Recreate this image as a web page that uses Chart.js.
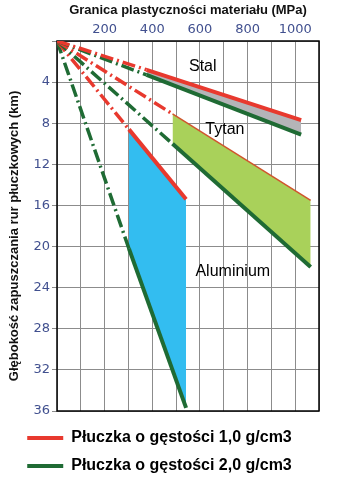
<!DOCTYPE html>
<html>
<head>
<meta charset="utf-8">
<script src="https://cdn.jsdelivr.net/npm/chart.js@4.4.1/dist/chart.umd.min.js"></script>
<style>
  html, body { margin: 0; padding: 0; background: #ffffff; }
  #wrap { width: 346px; height: 501px; }
</style>
</head>
<body>
<div id="wrap"><canvas id="c" width="346" height="501"></canvas></div>
<script>
// ---- data (MPa on x, depth km on y) ----
const xTitle = 'Granica plastyczności materiału (MPa)';
const yTitle = 'Głębokość zapuszczania rur płuczkowych (km)';
const legendLabels = ['Płuczka o gęstości 1,0 g/cm3', 'Płuczka o gęstości 2,0 g/cm3'];
const materials = ['Stal', 'Tytan', 'Aluminium'];
const xTickLabels = [200, 400, 600, 800, 1000];
const yTickLabels = [4, 8, 12, 16, 20, 24, 28, 32, 36];

const origin = [0, 0];
const steelX = [376, 1025];
const steelRed = [2.8, 7.7];
const steelGreen = [3.3, 9.1];
const titanX = [485, 1065];
const titanRed = [7.1, 15.5];
const titanGreen = [10.0, 22.0];
const aluX = [302, 542];
const aluRed = [8.6, 15.4];
const aluGreen = [20.2, 35.7];

// label anchors in data space (MPa, km)
const materialLabelX = [612, 705, 738];
const materialLabelY = [2.5, 8.65, 22.4];

// ---- styles ----
const RED = '#e8392e';
const GREEN = '#1f6b34';
const TICK = '#41508f';
const DASH = [13, 4, 2, 4];

function pts(xs, ys) { return xs.map((x, i) => ({ x: x, y: ys[i] })); }
function fromOrigin(x, y) { return [{ x: origin[0], y: origin[1] }, { x: x, y: y }]; }

const datasets = [
  { label: legendLabels[0], showInLegend: true, data: pts(steelX, steelRed), borderColor: RED, borderWidth: 4, fill: '+1', backgroundColor: '#b4b4b8' },
  { label: legendLabels[1], showInLegend: true, data: pts(steelX, steelGreen), borderColor: GREEN, borderWidth: 4, fill: false },
  { label: 'Tytan 1,0', data: pts(titanX, titanRed), borderColor: '#d0552d', borderWidth: 1.5, fill: '+1', backgroundColor: '#a9d15a' },
  { label: 'Tytan 2,0', data: pts(titanX, titanGreen), borderColor: GREEN, borderWidth: 4, fill: false },
  { label: 'Aluminium 1,0', data: pts(aluX, aluRed), borderColor: RED, borderWidth: 4, fill: '+1', backgroundColor: '#33bdf0' },
  { label: 'Aluminium 2,0', data: pts(aluX, aluGreen), borderColor: GREEN, borderWidth: 4, fill: false },
  { label: 'd1', data: fromOrigin(steelX[0], steelRed[0]), borderColor: RED, borderWidth: 3.5, borderDash: DASH, fill: false },
  { label: 'd2', data: fromOrigin(steelX[0], steelGreen[0]), borderColor: GREEN, borderWidth: 3.5, borderDash: DASH, fill: false },
  { label: 'd3', data: fromOrigin(titanX[0], titanRed[0]), borderColor: RED, borderWidth: 3.5, borderDash: DASH, fill: false },
  { label: 'd4', data: fromOrigin(titanX[0], titanGreen[0]), borderColor: GREEN, borderWidth: 3.5, borderDash: DASH, fill: false },
  { label: 'd5', data: fromOrigin(aluX[0], aluRed[0]), borderColor: RED, borderWidth: 3.5, borderDash: DASH, fill: false },
  { label: 'd6', data: fromOrigin(aluX[0], aluGreen[0]), borderColor: GREEN, borderWidth: 3.5, borderDash: DASH, fill: false }
];

const frame = {
  id: 'frame',
  beforeDatasetsDraw(chart) {
    const a = chart.chartArea, ctx = chart.ctx;
    ctx.save();
    ctx.strokeStyle = '#000';
    ctx.lineWidth = 1.5;
    ctx.strokeRect(a.left, a.top, a.right - a.left, a.bottom - a.top);
    ctx.restore();
  }
};

// vertical axis title, drawn slightly below the plot centre as in the original
const yAxisTitle = {
  id: 'yAxisTitle',
  afterDraw(chart) {
    const a = chart.chartArea, ctx = chart.ctx;
    ctx.save();
    ctx.translate(14, (a.top + a.bottom) / 2 + 10);
    ctx.rotate(-Math.PI / 2);
    ctx.font = 'bold 13px "Liberation Sans", Arial, sans-serif';
    ctx.fillStyle = '#111';
    ctx.textAlign = 'center';
    ctx.textBaseline = 'middle';
    ctx.fillText(yTitle, 0, 0);
    ctx.restore();
  }
};

const materialText = {
  id: 'materialText',
  afterDatasetsDraw(chart) {
    const ctx = chart.ctx, xs = chart.scales.x, ys = chart.scales.y;
    ctx.save();
    ctx.font = '16px "Liberation Sans", Arial, sans-serif';
    ctx.fillStyle = '#000';
    ctx.textAlign = 'center';
    ctx.textBaseline = 'middle';
    materials.forEach((m, i) => {
      ctx.fillText(m, xs.getPixelForValue(materialLabelX[i]), ys.getPixelForValue(materialLabelY[i]));
    });
    ctx.restore();
  }
};

new Chart(document.getElementById('c'), {
  type: 'line',
  data: { datasets: datasets },
  options: {
    responsive: false,
    animation: false,
    layout: { padding: { left: 0, right: 27, top: 0, bottom: 17 } },
    elements: { point: { radius: 0 }, line: { tension: 0, borderCapStyle: 'butt' } },
    plugins: {
      filler: { drawTime: 'beforeDatasetsDraw' },
      tooltip: { enabled: false },
      legend: {
        display: true,
        position: 'bottom',
        labels: {
          usePointStyle: true,
          pointStyle: 'line',
          pointStyleWidth: 36,
          padding: 12,
          color: '#000',
          font: { family: '"Liberation Sans", Arial, sans-serif', size: 16, weight: 'bold' },
          filter: (item, data) => !!data.datasets[item.datasetIndex].showInLegend
        }
      }
    },
    scales: {
      x: {
        type: 'linear',
        position: 'top',
        min: 0,
        max: 1100,
        afterFit: (s) => { s.height = 41; },
        border: { display: false },
        grid: { color: '#8c8c8c', lineWidth: 1, drawTicks: false },
        ticks: {
          stepSize: 100,
          padding: 4,
          color: TICK,
          font: { family: '"DejaVu Sans", Verdana, sans-serif', size: 13 },
          maxRotation: 0,
          autoSkip: false,
          callback: (v) => xTickLabels.includes(v) ? String(v) : ''
        },
        title: {
          display: true,
          text: xTitle,
          color: '#111',
          padding: { top: 3, bottom: 0 },
          font: { family: '"Liberation Sans", Arial, sans-serif', size: 13, weight: 'bold' }
        }
      },
      xb: {
        type: 'linear',
        position: 'bottom',
        min: 0,
        max: 1100,
        afterFit: (s) => { s.height = 7; },
        border: { display: false },
        grid: { display: false },
        ticks: { display: false }
      },
      y: {
        type: 'linear',
        position: 'left',
        reverse: true,
        min: 0,
        max: 36,
        afterFit: (s) => { s.width = 57; },
        border: { display: false },
        grid: { color: '#8c8c8c', lineWidth: 1, drawTicks: true, tickLength: 5 },
        ticks: {
          stepSize: 4,
          padding: 2,
          color: TICK,
          font: { family: '"DejaVu Sans", Verdana, sans-serif', size: 13 },
          autoSkip: false,
          callback: (v) => yTickLabels.includes(v) ? String(v) : ''
        },
        title: { display: false }
      }
    }
  },
  plugins: [frame, materialText, yAxisTitle]
});
</script>
</body>
</html>
